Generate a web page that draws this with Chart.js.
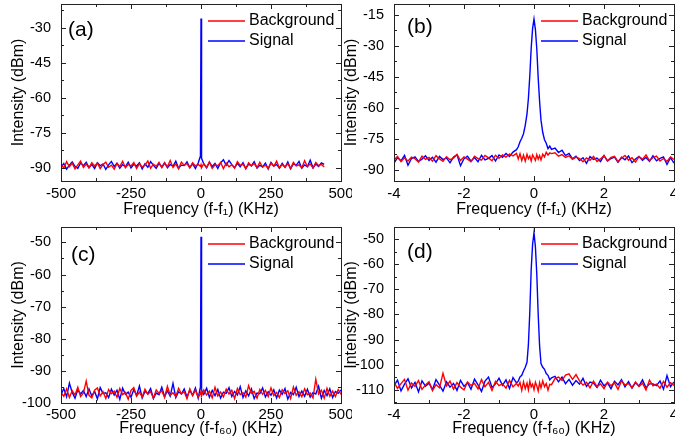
<!DOCTYPE html>
<html>
<head>
<meta charset="utf-8">
<title>Beat note spectra</title>
<script src="https://cdn.jsdelivr.net/npm/chart.js"></script>
<style>
	body { margin:0; background:#fff; width:675px; height:439px; overflow:hidden; position:relative; }
	.panel { position:absolute; }
</style>
</head>
<body>
<div class="panel" style="left:0px;top:0px;width:352px;height:220px"><canvas id="chartA"></canvas></div>
<div class="panel" style="left:333px;top:0px;width:352px;height:220px"><canvas id="chartB"></canvas></div>
<div class="panel" style="left:0px;top:223px;width:352px;height:216px"><canvas id="chartC"></canvas></div>
<div class="panel" style="left:333px;top:223px;width:352px;height:216px"><canvas id="chartD"></canvas></div>
<script>
// frequency offsets, KHz
var wideFreqA = [-500,-490,-480,-470,-460,-450,-440,-430,-420,-410,-400,-390,-380,-370,-360,-350,-340,-330,-320,-310,-300,-290,-280,-270,-260,-250,-240,-230,-220,-210,-200,-190,-180,-170,-160,-150,-140,-130,-120,-110,-100,-90,-80,-70,-60,-50,-40,-30,-20,-10,
	-2,0,2,
	10,20,30,40,50,60,70,80,90,100,110,120,130,140,150,160,170,180,190,200,210,220,230,240,250,260,270,280,290,300,310,320,330,340,350,360,370,380,390,400,410,420,430,440];
var wideFreqC = [-500,-490,-480,-470,-460,-450,-440,-430,-420,-410,-400,-390,-380,-370,-360,-350,-340,-330,-320,-310,-300,-290,-280,-270,-260,-250,-240,-230,-220,-210,-200,-190,-180,-170,-160,-150,-140,-130,-120,-110,-100,-90,-80,-70,-60,-50,-40,-30,-20,-10,
	-2,0,2,
	10,20,30,40,50,60,70,80,90,100,110,120,130,140,150,160,170,180,190,200,210,220,230,240,250,260,270,280,290,300,310,320,330,340,350,360,370,380,390,400,410,420,430,440,450,460,470,480,490,500];
var narrowFreq = [-4,-3.9,-3.8,-3.7,-3.6,-3.5,-3.4,-3.3,-3.2,-3.1,-3,-2.9,-2.8,-2.7,-2.6,-2.5,-2.4,-2.3,-2.2,-2.1,-2,-1.9,-1.8,-1.7,-1.6,-1.5,-1.4,-1.3,-1.2,-1.1,-1,-0.9,-0.8,-0.7,-0.6,-0.5,
	-0.45,-0.4,-0.35,-0.3,-0.25,-0.2,-0.16,-0.12,-0.08,-0.04,0,0.04,0.08,0.12,0.16,0.2,0.25,0.3,0.35,0.4,0.45,
	0.5,0.6,0.7,0.8,0.9,1,1.1,1.2,1.3,1.4,1.5,1.6,1.7,1.8,1.9,2,2.1,2.2,2.3,2.4,2.5,2.6,2.7,2.8,2.9,3,3.1,3.2,3.3,3.4,3.5,3.6,3.7,3.8,3.9,4];

// (a) f1, wide span
var backgroundA = [-88.5,-90.2,-87.4,-89.6,-88.1,-90.5,-88.8,-87.2,-89.9,-88.4,
	-90.1,-87.9,-89.3,-88.0,-90.4,-88.7,-87.6,-89.8,-88.9,-90.6,
	-88.2,-89.5,-87.3,-90.0,-88.6,-89.2,-87.8,-90.3,-88.3,-89.7,
	-88.9,-87.1,-90.2,-88.5,-89.4,-87.7,-90.0,-88.1,-89.6,-86.9,
	-89.9,-88.4,-90.5,-87.6,-89.0,-88.2,-90.1,-87.9,-89.3,-88.6,
	-89.4,-88.7,-90.0,
	-88.3,-89.8,-87.5,-90.3,-88.8,-89.1,-87.8,-90.4,-88.0,-89.6,
	-88.7,-90.2,-87.4,-89.0,-88.5,-90.5,-87.9,-89.3,-88.2,-90.0,
	-87.6,-89.7,-88.9,-90.3,-88.1,-89.4,-87.2,-90.1,-88.6,-89.8,
	-88.3,-90.4,-87.7,-89.2,-88.8,-90.0,-87.0,-89.5,-88.4,-90.2,
	-87.8,-89.1,-88.6,-89.7];
var signalA = [-89.8,-88.2,-90.6,-88.9,-87.5,-89.4,-90.3,-88.0,-89.1,-87.7,
	-89.9,-88.6,-90.4,-87.9,-89.2,-88.4,-90.7,-88.8,-87.3,-89.5,
	-88.1,-90.2,-88.7,-89.6,-87.6,-90.1,-88.5,-89.3,-87.9,-90.5,
	-88.3,-89.8,-87.4,-89.0,-90.3,-88.2,-89.7,-87.8,-90.0,-88.6,
	-89.4,-87.2,-90.2,-88.9,-89.1,-87.5,-89.9,-88.3,-90.4,-88.0,
	-85.0,-26.0,-86.0,
	-88.4,-90.1,-87.6,-89.5,-88.2,-90.3,-87.9,-86.6,-89.0,-86.9,
	-88.7,-90.0,-88.1,-89.6,-87.8,-90.4,-88.5,-89.2,-87.4,-90.1,
	-88.9,-89.7,-88.0,-90.6,-87.7,-89.3,-88.6,-90.2,-88.1,-89.9,
	-87.5,-90.5,-88.3,-89.0,-87.3,-90.2,-88.8,-89.6,-86.8,-90.0,
	-88.4,-89.5,-87.9,-88.6];

// (b) f1, narrow span
var backgroundB = [-85.3,-83.6,-86.1,-84.2,-85.8,-83.9,-84.7,-86.3,-83.4,-85.0,
	-84.1,-85.9,-83.2,-84.8,-86.0,-83.7,-85.2,-84.4,-82.6,-85.6,
	-83.8,-84.9,-86.2,-83.5,-84.6,-85.4,-83.1,-84.3,-85.7,-83.0,
	-84.5,-82.8,-83.9,-82.4,-83.3,-82.1,
	-84.8,-82.3,-85.6,-83.0,-85.9,-82.6,-84.7,-83.4,-85.8,-82.9,-84.1,-85.5,-82.7,-84.9,-83.2,-85.3,-82.5,-83.8,-81.6,-82.9,-81.9,
	-82.2,-81.8,-83.5,-82.7,-84.1,-83.3,-85.0,-83.9,-84.6,-86.2,
	-84.3,-85.5,-83.6,-86.0,-84.8,-83.2,-85.7,-84.0,-83.5,-86.1,
	-84.5,-83.1,-85.4,-84.2,-86.3,-83.7,-84.9,-82.9,-85.6,-84.1,
	-83.4,-85.8,-84.6,-86.0,-83.8,-85.1];
var signalB = [-86.8,-84.2,-85.7,-83.1,-87.9,-84.6,-83.8,-86.0,-84.9,-83.3,
	-85.5,-84.0,-86.4,-83.6,-85.1,-84.3,-86.7,-83.9,-82.8,-88.1,
	-84.7,-83.5,-85.9,-84.1,-86.2,-83.0,-85.3,-84.5,-83.2,-85.8,
	-82.9,-84.0,-82.2,-83.6,-81.5,-80.3,
	-78.9,-76.5,-74.8,-72.6,-68.5,-63.0,-55.5,-44.5,-31.0,-21.5,-17.0,-22.0,-31.5,-45.5,-57.0,-66.0,-72.0,-75.5,-77.2,-79.8,-78.6,
	-80.2,-79.5,-81.7,-80.6,-83.2,-82.1,-84.8,-83.5,-85.6,-84.2,
	-86.9,-83.7,-85.0,-84.4,-86.1,-83.2,-85.8,-84.6,-83.9,-86.4,
	-84.0,-85.2,-83.4,-86.6,-84.8,-83.6,-85.5,-84.1,-86.0,-83.3,
	-85.7,-84.5,-83.8,-87.5,-84.2,-86.8];

// (c) f60, wide span
var backgroundC = [-96.8,-97.9,-95.6,-98.3,-96.2,-97.5,-95.1,-98.0,-96.9,-93.2,
	-97.6,-98.4,-96.0,-95.3,-97.8,-96.5,-98.6,-95.8,-97.1,-96.3,
	-98.2,-95.5,-97.4,-96.7,-98.8,-96.1,-95.2,-97.9,-96.6,-98.1,
	-95.7,-97.3,-96.4,-98.5,-95.9,-97.0,-96.2,-98.3,-94.8,-97.6,
	-96.8,-98.0,-95.4,-97.2,-96.5,-98.7,-95.6,-97.7,-96.0,-98.2,
	-97.1,-96.4,-97.8,
	-95.9,-97.5,-96.3,-98.4,-95.1,-97.8,-96.6,-98.1,-95.7,-97.2,
	-96.0,-98.6,-95.5,-97.4,-96.8,-98.2,-94.6,-97.0,-96.4,-98.5,
	-95.8,-97.3,-96.1,-98.0,-95.3,-97.7,-96.7,-98.3,-95.9,-97.1,
	-96.2,-98.6,-95.0,-97.6,-96.5,-98.1,-95.6,-97.4,-96.9,-98.4,
	-92.6,-97.2,-96.0,-98.5,-95.4,-97.9,-96.3,-98.0,-95.8,-97.3];
var signalC = [-97.4,-95.5,-98.1,-93.8,-96.7,-98.5,-95.9,-97.2,-96.1,-98.0,
	-95.6,-97.8,-96.4,-98.7,-95.2,-97.0,-96.8,-98.3,-95.7,-97.5,
	-96.0,-98.9,-95.4,-97.3,-96.6,-98.2,-95.8,-97.7,-94.7,-98.4,
	-96.3,-97.1,-95.5,-98.6,-96.9,-97.4,-95.1,-98.0,-96.2,-97.9,
	-93.9,-98.3,-96.5,-97.2,-95.6,-98.1,-96.0,-97.6,-95.3,-98.5,
	-95.0,-48.2,-96.0,
	-97.3,-95.4,-98.2,-96.1,-97.7,-95.8,-98.5,-96.6,-97.0,-95.2,
	-98.0,-96.4,-97.5,-94.9,-98.3,-96.2,-97.8,-95.6,-98.6,-96.9,
	-97.1,-95.3,-98.1,-96.5,-97.6,-95.9,-98.4,-96.0,-97.3,-95.5,
	-98.8,-96.7,-97.4,-95.1,-98.0,-96.3,-97.9,-95.7,-98.2,-96.8,
	-97.2,-94.8,-98.5,-96.1,-97.7,-95.6,-98.3,-96.4,-97.0,-95.9];

// (d) f60, narrow span
var backgroundD = [-106.9,-109.4,-107.5,-105.8,-110.1,-107.2,-108.6,-106.3,-109.8,-108.0,
	-106.7,-110.3,-107.9,-109.1,-103.4,-108.4,-106.5,-109.7,-107.1,-108.9,
	-110.0,-106.8,-108.2,-107.4,-109.6,-105.9,-108.7,-107.0,-110.2,-106.6,
	-108.3,-107.6,-109.3,-106.2,-108.8,-107.4,
	-108.5,-107.0,-110.2,-106.8,-109.5,-107.3,-110.0,-106.5,-108.8,-107.7,-109.9,-106.9,-108.4,-110.4,-107.1,-109.2,-106.4,-108.7,-107.5,-110.1,-107.8,
	-107.9,-105.5,-104.9,-106.2,-104.1,-103.6,-105.8,-103.9,-106.4,-108.1,
	-107.0,-109.2,-106.5,-108.7,-107.6,-109.5,-106.9,-108.3,-107.2,-109.8,
	-106.4,-108.0,-107.5,-109.1,-106.8,-108.6,-107.3,-110.0,-106.1,-108.4,
	-107.7,-109.3,-106.6,-108.9,-107.1,-108.2];
var signalD = [-108.3,-106.1,-110.4,-107.7,-105.6,-109.2,-107.0,-110.8,-106.4,-108.5,
	-107.3,-109.9,-105.9,-108.1,-110.5,-106.8,-108.9,-107.4,-110.2,-106.2,
	-108.6,-107.1,-109.7,-105.7,-108.0,-110.6,-106.5,-104.9,-109.0,-107.6,
	-105.3,-108.2,-106.0,-109.4,-105.1,-107.2,
	-106.5,-104.8,-104.2,-102.5,-101.0,-99.0,-92.0,-79.0,-62.0,-52.0,-47.5,-53.0,-64.0,-80.0,-92.5,-99.5,-101.0,-101.8,-103.5,-104.2,-106.0,
	-105.2,-104.6,-106.8,-104.9,-107.5,-105.8,-108.1,-106.3,-107.7,-105.4,
	-108.6,-106.9,-107.3,-109.0,-106.1,-108.4,-107.2,-109.5,-106.5,-108.0,
	-105.9,-108.8,-106.7,-109.3,-107.1,-108.5,-106.0,-109.1,-107.6,-107.6,
	-108.3,-106.4,-109.7,-104.3,-108.7,-106.8];

// axis ticks
var wideTicksX = [-500,-250,0,250,500];
var narrowTicksX = [-4,-2,0,2,4];
var ticksYA = [-90,-75,-60,-45,-30];
var ticksYB = [-90,-75,-60,-45,-30,-15];
var ticksYC = [-100,-90,-80,-70,-60,-50];
var ticksYD = [-110,-100,-90,-80,-70,-60,-50];

var FONT = '"Liberation Sans", Arial, sans-serif';
Chart.defaults.font.family = FONT;
Chart.defaults.color = '#000';

function minorsOf(majors, min, max)
{
	var step = majors[1] - majors[0];
	var out = [];
	for (var v = majors[0] - step * 1.5; v <= max; v += step) {
		if (v >= min) out.push(v);
	}
	return out;
}

// frame, inward ticks, legend and panel letter
var framePlugin = {
	id: 'frame',
	afterDraw: function(chart, args, o) {
		var ctx = chart.ctx, a = chart.chartArea;
		var xs = chart.scales.x, ys = chart.scales.y;
		ctx.save();
		ctx.strokeStyle = '#222';
		ctx.lineWidth = 1;
		ctx.strokeRect(Math.round(a.left) + 0.5, Math.round(a.top) + 0.5, Math.round(a.right - a.left), Math.round(a.bottom - a.top));
		ctx.beginPath();
		function xTick(v, len) {
			var px = Math.round(xs.getPixelForValue(v)) + 0.5;
			ctx.moveTo(px, a.bottom); ctx.lineTo(px, a.bottom - len);
			ctx.moveTo(px, a.top); ctx.lineTo(px, a.top + len);
		}
		function yTick(v, len) {
			var py = Math.round(ys.getPixelForValue(v)) + 0.5;
			ctx.moveTo(a.left, py); ctx.lineTo(a.left + len, py);
			ctx.moveTo(a.right, py); ctx.lineTo(a.right - len, py);
		}
		o.xTicks.forEach(function(v) { xTick(v, 5); });
		minorsOf(o.xTicks, xs.min, xs.max).forEach(function(v) { xTick(v, 3); });
		o.yTicks.forEach(function(v) { yTick(v, 5); });
		minorsOf(o.yTicks, ys.min, ys.max).forEach(function(v) { yTick(v, 3); });
		ctx.stroke();

		// legend
		ctx.font = '16px ' + FONT;
		ctx.textBaseline = 'middle';
		ctx.textAlign = 'left';
		chart.data.datasets.forEach(function(ds, i) {
			var y = a.top + 17 + i * 20;
			ctx.strokeStyle = ds.borderColor;
			ctx.lineWidth = 1.3;
			ctx.beginPath();
			ctx.moveTo(a.right - 133, y); ctx.lineTo(a.right - 96, y);
			ctx.stroke();
			ctx.fillStyle = '#000';
			ctx.fillText(ds.label, a.right - 92, y);
		});

		// panel letter
		ctx.font = '21px ' + FONT;
		ctx.fillText(o.letter, a.left + o.letterDx, a.top + o.letterDy);
		ctx.restore();
	}
};

function makeChart(id, freq, bg, sig, xMin, xMax, yMin, yMax, xTicks, yTicks, xTitle, letter, letterDx, letterDy, xHeight, labelPad)
{
	var fixedTicks = function(arr) {
		return function(s) { s.ticks = arr.map(function(v) { return {value: v}; }); };
	};
	return new Chart(document.getElementById(id), {
		type: 'line',
		data: {
			labels: freq,
			datasets: [
				{label: 'Background', data: bg, borderColor: '#ff0000', borderWidth: 1.4, pointRadius: 0, tension: 0},
				{label: 'Signal', data: sig, borderColor: '#0000ff', borderWidth: 1.4, pointRadius: 0, tension: 0}
			]
		},
		options: {
			responsive: true,
			maintainAspectRatio: false,
			animation: false,
			events: [],
			layout: {padding: {left: 0, top: 4, right: 11, bottom: 0}},
			plugins: {
				legend: {display: false},
				tooltip: {enabled: false},
				frame: {xTicks: xTicks, yTicks: yTicks, letter: letter, letterDx: letterDx, letterDy: letterDy}
			},
			scales: {
				x: {
					type: 'linear', min: xMin, max: xMax,
					grid: {display: false, drawTicks: false, tickLength: 0},
					border: {display: false},
					afterBuildTicks: fixedTicks(xTicks),
					afterFit: function(s) { s.height = xHeight; s.paddingLeft = 0; s.paddingRight = 0; },
					ticks: {padding: labelPad, maxRotation: 0, autoSkip: false, font: {size: 15}, callback: function(v) { return String(v); }},
					title: {display: true, text: xTitle, font: {size: 16}, padding: {top: 0, bottom: 1}}
				},
				y: {
					min: yMin, max: yMax,
					grid: {display: false, drawTicks: false, tickLength: 0},
					border: {display: false},
					afterBuildTicks: fixedTicks(yTicks),
					afterFit: function(s) { s.width = 61; s.paddingTop = 0; s.paddingBottom = 0; },
					ticks: {padding: 10, autoSkip: false, font: {size: 14.5}, callback: function(v) { return String(v); }},
					title: {display: true, text: 'Intensity (dBm)', font: {size: 16}, padding: {top: 9, bottom: 0}}
				}
			}
		},
		plugins: [framePlugin]
	});
}

makeChart('chartA', wideFreqA, backgroundA, signalA, -500, 500, -95.7, -19.8, wideTicksX, ticksYA, 'Frequency (f-f\u2081) (KHz)', '(a)', 7, 26, 39, 4);
makeChart('chartB', narrowFreq, backgroundB, signalB, -4, 4, -95.5, -9.7, narrowTicksX, ticksYB, 'Frequency (f-f\u2081) (KHz)', '(b)', 13, 23, 39, 4);
makeChart('chartC', wideFreqC, backgroundC, signalC, -500, 500, -100, -45.2, wideTicksX, ticksYC, 'Frequency (f-f\u2086\u2080) (KHz)', '(c)', 10, 28, 36, 3);
makeChart('chartD', narrowFreq, backgroundD, signalD, -4, 4, -115.2, -45.2, narrowTicksX, ticksYD, 'Frequency (f-f\u2086\u2080) (KHz)', '(d)', 13, 25, 36, 3);
</script>
</body>
</html>
